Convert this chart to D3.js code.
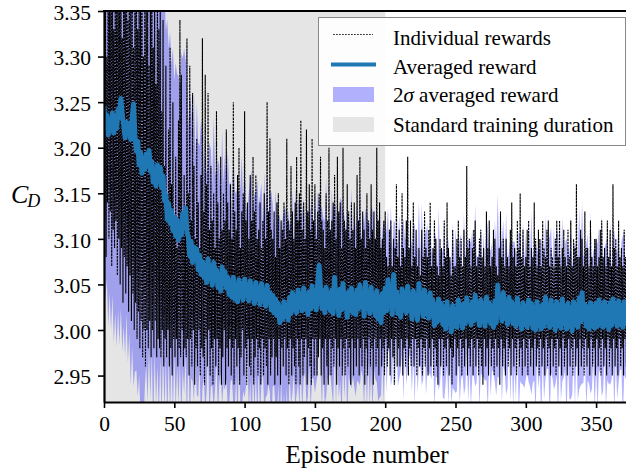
<!DOCTYPE html>
<html><head><meta charset="utf-8">
<script src="https://cdn.jsdelivr.net/npm/d3@7"></script>
<style>body{margin:0;background:#fff;overflow:hidden} text{font-family:'Liberation Serif','Times New Roman',serif}</style>
</head><body>
<svg id="chart" width="626" height="474"></svg>
<script>
// Individual rewards, two values per episode (episode 0, 0.5, 1, ... 372)
const individualRewards = [
3.25,3.12,3.41,3.08,3.30,3.14,3.45,3.10,3.36,3.13,3.39,3.07,3.44,3.11,3.33,3.09,3.40,3.12,3.35,3.06,
3.43,3.10,3.37,3.05,3.47,3.09,3.32,3.03,3.42,3.08,3.38,3.04,3.45,3.07,3.34,3.02,3.41,3.06,3.36,3.01,
3.44,3.04,3.31,3.00,3.39,3.03,3.46,2.99,3.33,3.02,3.40,2.98,3.36,3.01,3.43,2.97,3.30,3.00,3.38,2.96,
3.35,3.00,3.42,2.98,3.29,3.01,3.37,2.97,3.44,3.00,3.31,2.98,3.38,3.01,3.27,2.97,3.40,2.99,3.33,2.98,
3.36,2.97,3.24,3.00,3.34,2.96,3.18,2.99,3.29,2.97,3.14,3.00,3.22,2.96,3.31,2.98,3.16,2.95,3.25,2.99,
3.12,2.97,3.19,2.99,3.09,2.96,3.23,2.98,3.34,2.97,3.28,3.00,3.13,2.96,3.17,2.98,3.11,2.97,3.32,2.99,
3.15,2.95,3.29,2.99,3.12,2.96,3.26,3.00,3.18,2.94,3.10,2.98,3.21,2.96,3.14,3.00,3.09,2.95,3.17,2.98,
3.32,2.97,3.13,2.94,3.28,2.99,3.16,2.96,3.26,3.00,3.11,2.95,3.18,2.98,3.12,2.94,3.15,2.99,3.09,2.96,
3.24,2.99,3.14,2.95,3.10,2.98,3.19,2.94,3.11,2.97,3.15,3.00,3.12,2.94,3.22,2.98,3.14,2.96,3.11,2.99,
3.16,2.95,3.10,2.98,3.25,2.94,3.13,2.99,3.11,2.96,3.17,2.98,3.20,2.94,3.09,2.97,3.13,3.00,3.15,2.95,
3.24,2.98,3.12,2.94,3.14,2.99,3.10,2.96,3.17,2.95,3.12,2.99,3.19,2.94,3.13,2.97,3.17,2.99,3.10,2.95,
3.11,2.98,3.14,2.94,3.09,2.99,3.12,2.95,3.15,2.98,3.10,2.96,3.25,2.94,3.13,2.99,3.21,2.95,3.11,2.97,
3.10,2.99,3.13,2.94,3.08,2.97,3.14,2.95,3.15,2.99,3.09,2.94,3.12,2.98,3.11,2.96,3.14,2.99,3.10,2.95,
3.21,2.98,3.12,2.94,3.11,2.99,3.18,2.95,3.13,2.98,3.10,2.96,3.14,2.94,3.19,2.99,3.12,2.96,3.15,2.94,
3.23,2.99,3.11,2.95,3.14,2.97,3.10,2.99,3.22,2.94,3.13,2.98,3.16,2.96,3.11,2.94,3.21,2.99,3.12,2.95,
3.16,2.99,3.10,2.95,3.13,2.97,3.15,2.99,3.19,2.95,3.12,2.98,3.11,2.94,3.09,2.99,3.15,2.96,3.12,2.94,
3.20,2.99,3.11,2.95,3.12,2.98,3.14,2.96,3.17,2.99,3.10,2.94,3.19,2.98,3.13,2.96,3.14,2.99,3.09,2.95,
3.20,2.98,3.12,2.95,3.11,2.99,3.16,2.96,3.13,2.98,3.10,2.94,3.14,2.99,3.11,2.95,3.14,2.98,3.09,2.96,
3.17,2.99,3.12,2.95,3.19,2.98,3.10,2.96,3.13,2.99,3.11,2.94,3.09,2.98,3.15,2.95,3.12,2.99,3.10,2.96,
3.16,2.98,3.11,2.94,3.13,2.99,3.10,2.96,3.20,2.98,3.12,2.95,3.14,2.99,3.09,2.96,3.10,2.98,3.12,2.95,
3.13,2.99,3.08,2.96,3.07,2.98,3.11,2.95,3.12,2.99,3.07,2.97,3.10,2.94,3.09,2.99,3.16,2.96,3.08,2.98,
3.11,2.96,3.07,2.99,3.15,2.95,3.09,2.98,3.08,2.96,3.12,2.99,3.19,2.95,3.09,2.98,3.12,2.96,3.07,2.99,
3.14,2.96,3.08,2.99,3.11,2.95,3.07,2.98,3.09,2.96,3.06,2.99,3.11,2.95,3.08,2.98,3.13,2.96,3.09,2.99,
3.08,2.95,3.11,2.98,3.14,2.96,3.07,2.99,3.09,2.95,3.12,2.98,3.10,2.96,3.07,2.94,3.06,2.99,3.10,2.96,
3.09,2.99,3.07,2.95,3.12,2.98,3.08,2.96,3.14,2.99,3.09,2.95,3.08,2.98,3.06,2.94,3.11,2.97,3.07,2.99,
3.07,2.95,3.10,2.98,3.12,2.96,3.08,2.99,3.10,2.95,3.07,2.98,3.11,2.96,3.08,2.99,3.18,2.95,3.09,2.98,
3.10,2.96,3.07,2.99,3.09,2.95,3.11,2.98,3.12,2.96,3.07,2.99,3.08,2.95,3.10,2.98,3.11,2.96,3.08,2.94,
3.09,2.99,3.07,2.96,3.13,2.98,3.09,2.95,3.12,2.99,3.07,2.96,3.08,2.98,3.11,2.95,3.10,2.99,3.07,2.96,
3.06,2.98,3.09,2.94,3.13,2.99,3.08,2.96,3.10,2.98,3.07,2.95,3.10,2.99,3.08,2.96,3.07,2.98,3.11,2.95,
3.14,2.99,3.08,2.96,3.09,2.98,3.07,2.95,3.12,2.99,3.09,2.96,3.15,2.98,3.08,2.95,3.11,2.99,3.07,2.96,
3.08,2.98,3.11,2.95,3.12,2.99,3.07,2.96,3.09,2.98,3.08,2.95,3.14,2.99,3.10,2.96,3.07,2.98,3.11,2.95,
3.10,2.99,3.07,2.96,3.12,2.98,3.09,2.95,3.08,2.99,3.11,2.96,3.12,2.98,3.07,2.95,3.09,2.99,3.08,2.96,
3.07,2.98,3.10,2.95,3.12,2.99,3.08,2.96,3.12,2.98,3.07,2.95,3.09,2.99,3.11,2.96,3.08,2.98,3.07,2.95,
3.11,2.99,3.08,2.96,3.12,2.98,3.07,2.95,3.10,2.99,3.09,2.96,3.16,2.98,3.08,2.95,3.08,2.99,3.11,2.96,
3.10,2.98,3.07,2.95,3.13,2.99,3.09,2.96,3.09,2.98,3.07,2.95,3.12,2.99,3.08,2.96,3.07,2.98,3.10,2.95,
3.10,2.99,3.07,2.96,3.08,2.98,3.11,2.95,3.12,2.99,3.08,2.96,3.09,2.98,3.07,2.95,3.12,2.99,3.08,2.96,
3.11,2.98,3.07,2.95,3.16,2.99,3.09,2.96,3.10,2.98,3.07,2.95,3.12,2.99,3.08,2.96,3.09,2.98,3.07,2.95,
3.11,2.99,3.08,2.96,3.09
];
const individualStep = 0.5; // episodes between consecutive individual rewards
// Averaged reward, one value per episode
const averagedReward = [
3.245,3.222,3.236,3.214,3.231,3.219,3.238,3.216,3.229,3.221,
3.242,3.233,3.254,3.236,3.225,3.211,3.228,3.214,3.226,3.209,
3.232,3.248,3.214,3.196,3.207,3.181,3.195,3.172,3.189,3.176,
3.193,3.181,3.197,3.174,3.185,3.162,3.176,3.158,3.181,3.167,
3.178,3.156,3.169,3.142,3.148,3.121,3.139,3.117,3.131,3.109,
3.124,3.103,3.121,3.099,3.115,3.104,3.128,3.119,3.134,3.107,
3.102,3.081,3.097,3.074,3.091,3.078,3.089,3.066,3.082,3.061,
3.075,3.058,3.071,3.052,3.078,3.056,3.068,3.049,3.074,3.055,
3.066,3.047,3.061,3.043,3.069,3.051,3.064,3.046,3.058,3.039,
3.053,3.036,3.058,3.034,3.049,3.031,3.055,3.037,3.051,3.033,
3.056,3.038,3.049,3.032,3.054,3.036,3.047,3.029,3.052,3.035,
3.046,3.028,3.051,3.033,3.043,3.026,3.049,3.031,3.041,3.022,
3.038,3.019,3.034,3.016,3.029,3.008,3.024,3.012,3.031,3.015,
3.027,3.011,3.036,3.018,3.041,3.022,3.037,3.019,3.044,3.025,
3.039,3.021,3.046,3.024,3.038,3.017,3.042,3.023,3.048,3.026,
3.041,3.022,3.052,3.071,3.046,3.024,3.043,3.019,3.047,3.026,
3.040,3.021,3.044,3.018,3.058,3.027,3.039,3.016,3.045,3.022,
3.051,3.025,3.037,3.014,3.042,3.021,3.046,3.019,3.038,3.017,
3.044,3.023,3.049,3.026,3.039,3.015,3.052,3.024,3.041,3.018,
3.047,3.022,3.038,3.016,3.043,3.012,3.036,3.008,3.040,3.019,
3.046,3.021,3.055,3.029,3.038,3.017,3.061,3.027,3.042,3.018,
3.037,3.014,3.045,3.022,3.041,3.019,3.048,3.024,3.036,3.012,
3.043,3.017,3.034,3.011,3.051,3.022,3.039,3.015,3.044,3.018,
3.036,3.013,3.041,3.016,3.032,3.005,3.028,3.009,3.034,3.011,
3.029,3.006,3.024,3.001,3.031,3.008,3.022,2.998,3.027,3.004,
3.021,3.003,3.033,3.009,3.026,3.002,3.029,3.007,3.035,3.011,
3.027,3.006,3.031,3.010,3.038,3.012,3.029,3.005,3.033,3.009,
3.028,3.004,3.036,3.011,3.030,3.007,3.026,3.003,3.032,3.008,
3.049,3.018,3.034,3.010,3.041,3.014,3.029,3.006,3.036,3.011,
3.031,3.007,3.027,3.004,3.035,3.009,3.024,3.001,3.030,3.006,
3.026,3.003,3.033,3.008,3.029,3.002,3.025,3.000,3.031,3.006,
3.024,3.001,3.028,3.004,3.036,3.008,3.027,3.003,3.033,3.007,
3.025,3.000,3.031,3.005,3.027,3.002,3.034,3.008,3.026,3.001,
3.029,3.004,3.024,2.999,3.031,3.006,3.027,3.003,3.035,3.009,
3.041,3.012,3.028,3.004,3.025,3.001,3.030,3.005,3.026,3.002,
3.029,3.004,3.033,3.007,3.027,3.003,3.031,3.006,3.025,3.001,
3.030,3.005,3.034,3.009,3.028,3.004,3.032,3.006,3.027,3.003,
3.031,3.007,3.029
];
// Half-width of the 2-sigma band, one value per episode
const twoSigma = [
0.17,0.19,0.18,0.21,0.19,0.22,0.20,0.23,0.21,0.24,
0.22,0.25,0.23,0.26,0.22,0.24,0.21,0.25,0.23,0.27,
0.25,0.31,0.26,0.24,0.28,0.23,0.29,0.26,0.30,0.24,
0.23,0.26,0.22,0.25,0.21,0.27,0.20,0.24,0.22,0.26,
0.21,0.25,0.19,0.23,0.18,0.22,0.17,0.21,0.16,0.20,
0.15,0.19,0.16,0.18,0.15,0.20,0.17,0.19,0.16,0.21,
0.12,0.18,0.15,0.13,0.17,0.11,0.16,0.14,0.12,0.17,
0.14,0.11,0.16,0.12,0.10,0.15,0.13,0.11,0.16,0.12,
0.10,0.14,0.12,0.09,0.15,0.11,0.13,0.10,0.14,0.12,
0.11,0.09,0.14,0.12,0.10,0.13,0.09,0.12,0.14,0.10,
0.13,0.10,0.08,0.12,0.11,0.14,0.09,0.12,0.10,0.13,
0.09,0.12,0.11,0.08,0.13,0.10,0.12,0.09,0.11,0.13,
0.10,0.08,0.12,0.11,0.09,0.12,0.08,0.11,0.10,0.12,
0.09,0.12,0.08,0.10,0.11,0.07,0.12,0.09,0.10,0.11,
0.08,0.11,0.10,0.07,0.12,0.09,0.08,0.11,0.10,0.08,
0.11,0.08,0.10,0.07,0.09,0.11,0.08,0.10,0.12,0.08,
0.09,0.07,0.11,0.10,0.08,0.11,0.07,0.09,0.10,0.12,
0.08,0.10,0.07,0.11,0.09,0.08,0.11,0.07,0.10,0.09,
0.10,0.08,0.11,0.07,0.09,0.10,0.08,0.11,0.07,0.10,
0.09,0.11,0.08,0.07,0.10,0.09,0.11,0.08,0.07,0.10,
0.06,0.09,0.08,0.05,0.10,0.07,0.06,0.09,0.05,0.08,
0.09,0.06,0.07,0.10,0.06,0.08,0.09,0.05,0.07,0.08,
0.07,0.10,0.05,0.08,0.09,0.06,0.10,0.07,0.06,0.09,
0.08,0.06,0.09,0.07,0.05,0.09,0.08,0.06,0.10,0.07,
0.06,0.08,0.10,0.06,0.07,0.09,0.05,0.08,0.09,0.07,
0.09,0.07,0.06,0.09,0.08,0.05,0.10,0.07,0.06,0.09,
0.07,0.09,0.08,0.06,0.10,0.07,0.05,0.09,0.08,0.06,
0.08,0.06,0.09,0.10,0.06,0.08,0.07,0.05,0.09,0.08,
0.10,0.07,0.06,0.09,0.08,0.06,0.10,0.07,0.05,0.09,
0.06,0.09,0.07,0.08,0.05,0.10,0.08,0.06,0.09,0.07,
0.08,0.05,0.09,0.07,0.10,0.06,0.08,0.09,0.06,0.07,
0.07,0.10,0.06,0.08,0.09,0.05,0.07,0.10,0.08,0.06,
0.09,0.06,0.08,0.10,0.05,0.08,0.09,0.06,0.07,0.10,
0.06,0.08,0.10,0.07,0.06,0.09,0.05,0.08,0.10,0.07,
0.10,0.07,0.05,0.09,0.08,0.06,0.10,0.07,0.06,0.09,
0.07,0.09,0.08,0.05,0.10,0.07,0.06,0.09,0.08,0.06,
0.09,0.06,0.07,0.10,0.06,0.08,0.09,0.05,0.07,0.10,
0.08,0.06,0.09
];
const trainingDuration = [0, 200];
const xTicks = [0, 50, 100, 150, 200, 250, 300, 350];
const yTicks = [2.95, 3.00, 3.05, 3.10, 3.15, 3.20, 3.25, 3.30, 3.35];
const legendLabels = ["Individual rewards", "Averaged reward", "2σ averaged reward", "Standard training duration"];

const FONT = "'Liberation Serif','Times New Roman',serif";
const W = 626, H = 474, L = 104, T = 11, B = 402;
const svg = d3.select("#chart");
const x = d3.scaleLinear().domain([0, 380]).range([L, L + 380 * 1.406]);
const y = d3.scaleLinear().domain([2.921, 3.35]).range([B, T]);

svg.append("defs").append("clipPath").attr("id", "plotclip")
  .append("rect").attr("x", L).attr("y", T).attr("width", W - L).attr("height", B - T);

const plot = svg.append("g").attr("clip-path", "url(#plotclip)");

plot.append("rect")
  .attr("x", x(trainingDuration[0])).attr("width", x(trainingDuration[1]) - x(trainingDuration[0]))
  .attr("y", T).attr("height", B - T).attr("fill", "#e5e5e5");

const band = d3.area()
  .x((d, i) => x(i))
  .y0((d, i) => y(averagedReward[i] - twoSigma[i]))
  .y1((d, i) => y(averagedReward[i] + twoSigma[i]));
plot.append("path").datum(averagedReward).attr("d", band)
  .attr("fill", "blue").attr("fill-opacity", 0.3);

const indLine = d3.line().x((d, i) => x(i * individualStep)).y(d => y(d));
plot.append("path").datum(individualRewards).attr("d", indLine)
  .attr("fill", "none").attr("stroke", "#000").attr("stroke-width", 1.1)
  .attr("stroke-dasharray", "2.4,0.9");

const line = d3.line().x((d, i) => x(i)).y(d => y(d));
plot.append("path").datum(averagedReward).attr("d", line)
  .attr("fill", "none").attr("stroke", "#1f77b4").attr("stroke-width", 5)
  .attr("stroke-linejoin", "round");

// Axes
const xAxis = d3.axisBottom(x).tickValues(xTicks).tickFormat(d3.format("d"))
  .tickSize(6).tickSizeOuter(0).tickPadding(8);
const gx = svg.append("g").attr("transform", `translate(0,${B})`).call(xAxis);
const yAxis = d3.axisLeft(y).tickValues(yTicks).tickFormat(d3.format(".2f"))
  .tickSize(6).tickSizeOuter(0).tickPadding(7);
const gy = svg.append("g").attr("transform", `translate(${L},0)`).call(yAxis);
[gx, gy].forEach(g => {
  g.attr("font-family", null);
  g.select(".domain").attr("stroke", "#000").attr("stroke-width", 2.2);
  g.selectAll(".tick line").attr("stroke", "#000").attr("stroke-width", 1.6);
  g.selectAll(".tick text").style("font-family", FONT).style("font-size", "21.5px").attr("fill", "#000");
});
gy.selectAll(".tick text").attr("dy", "0.38em");
svg.append("line").attr("x1", L - 1).attr("x2", W).attr("y1", T).attr("y2", T)
  .attr("stroke", "#000").attr("stroke-width", 2.2);

// Labels
svg.append("text").attr("x", (L + W) / 2 + 2).attr("y", 463).attr("text-anchor", "middle")
  .style("font-family", FONT).style("font-size", "25px").text("Episode number");
const yl = svg.append("text").attr("x", 11).attr("y", 203).style("font-family", FONT)
  .style("font-style", "italic").style("font-size", "26px");
yl.append("tspan").text("C");
yl.append("tspan").style("font-size", "18px").attr("dy", 4).attr("dx", -1).text("D");

// Legend
const lg = svg.append("g");
lg.append("rect").attr("x", 318.5).attr("y", 17.5).attr("width", 307).attr("height", 128)
  .attr("fill", "#fff").attr("fill-opacity", 0.9).attr("stroke", "#888").attr("stroke-width", 1);
lg.append("line").attr("x1", 333).attr("x2", 373).attr("y1", 34.5).attr("y2", 34.5)
  .attr("stroke", "#000").attr("stroke-width", 0.8).attr("stroke-dasharray", "1.8,1.2");
lg.append("line").attr("x1", 331).attr("x2", 376).attr("y1", 64.5).attr("y2", 64.5)
  .attr("stroke", "#1f77b4").attr("stroke-width", 4);
lg.append("rect").attr("x", 333).attr("y", 87).attr("width", 41).attr("height", 15)
  .attr("fill", "blue").attr("fill-opacity", 0.3);
lg.append("rect").attr("x", 333).attr("y", 117).attr("width", 41).attr("height", 15)
  .attr("fill", "#e5e5e5");
const baselines = [44.5, 73.5, 102, 132];
legendLabels.forEach((lab, i) => {
  const t = lg.append("text").attr("x", 393).attr("y", baselines[i])
    .style("font-family", FONT).style("font-size", "21px");
  if (lab.includes("σ")) {
    const parts = lab.split("σ");
    t.append("tspan").text(parts[0]);
    t.append("tspan").style("font-style", "italic").text("σ");
    t.append("tspan").text(parts[1]);
  } else {
    t.text(lab);
  }
});
</script>
</body></html>
